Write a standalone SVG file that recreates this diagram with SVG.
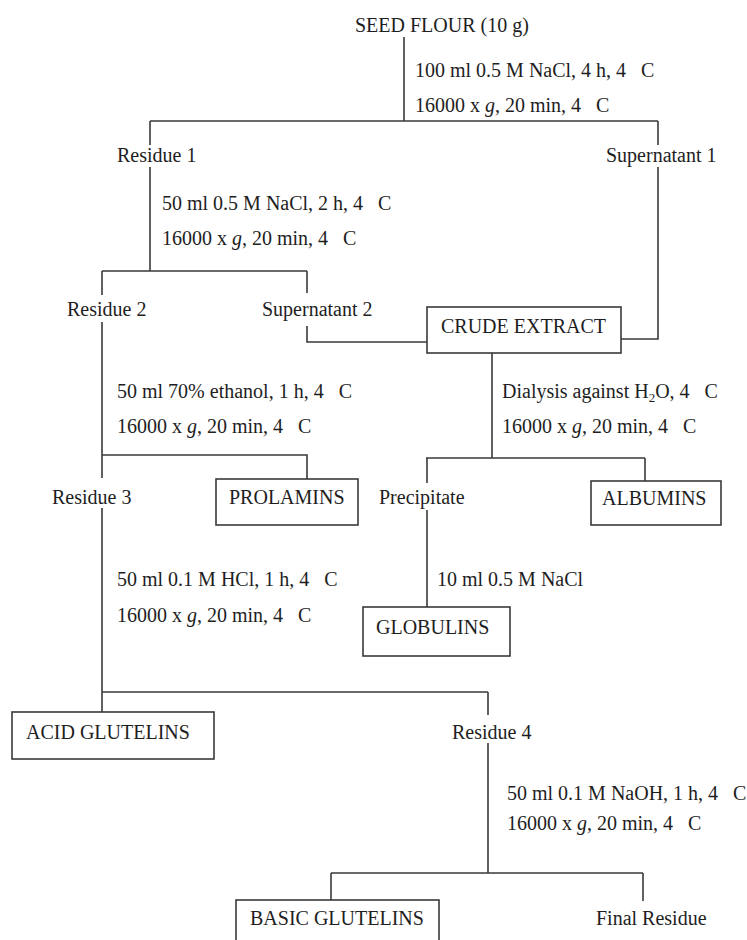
<svg xmlns="http://www.w3.org/2000/svg" width="747" height="940" viewBox="0 0 747 940">
<style>
text{font-family:"Liberation Serif","Times New Roman",serif;font-size:20px;fill:#1e1e1e;white-space:pre}
.l{fill:none;stroke:#3a3a3a;stroke-width:1.6}
.b{fill:#fff;stroke:#3a3a3a;stroke-width:1.6}
.i{font-style:italic}
</style>
<rect width="747" height="940" fill="#fff"/>
<g id="connectors">
<path class="l" d="M404,37V121M150,121H658M150,121V145M150,167V271M658,121V145M658,167V339H621"/>
<path class="l" d="M102,271H307M102,271V295M102,322V478M307,271V293M307,326V342H427"/>
<path class="l" d="M102,455H307V479"/>
<path class="l" d="M492,353V458M426,458H645M427,458V483M427,510V607M645,458V481"/>
<path class="l" d="M102,508V712M102,692H488M488,692V715M488,743V873M331,873H643M331,873V900M643,873V901"/>
</g>
<g id="seed-flour"><text x="355" y="32">SEED FLOUR (10 g)</text></g>
<g id="step1"><text x="415" y="77">100 ml 0.5 M NaCl, 4 h, 4   C</text><text x="415" y="112">16000 x <tspan class="i">g</tspan>, 20 min, 4   C</text></g>
<g id="residue1"><text x="117" y="162">Residue 1</text></g>
<g id="supernatant1"><text x="606" y="162">Supernatant 1</text></g>
<g id="step2"><text x="162" y="210">50 ml 0.5 M NaCl, 2 h, 4   C</text><text x="162" y="245">16000 x <tspan class="i">g</tspan>, 20 min, 4   C</text></g>
<g id="residue2"><text x="67" y="316">Residue 2</text></g>
<g id="supernatant2"><text x="262" y="316">Supernatant 2</text></g>
<g id="crude-extract"><rect class="b" x="427" y="307" width="194" height="46"/><text x="441" y="333">CRUDE EXTRACT</text></g>
<g id="step3"><text x="117" y="398">50 ml 70% ethanol, 1 h, 4   C</text><text x="117" y="433">16000 x <tspan class="i">g</tspan>, 20 min, 4   C</text></g>
<g id="dialysis"><text x="502" y="398">Dialysis against H<tspan font-size="13" dy="4">2</tspan><tspan dy="-4">O, 4   C</tspan></text><text x="502" y="433">16000 x <tspan class="i">g</tspan>, 20 min, 4   C</text></g>
<g id="residue3"><text x="52" y="504">Residue 3</text></g>
<g id="prolamins"><rect class="b" x="216" y="479" width="142" height="46"/><text x="229" y="504">PROLAMINS</text></g>
<g id="precipitate"><text x="379" y="504">Precipitate</text></g>
<g id="albumins"><rect class="b" x="591" y="481" width="130" height="44"/><text x="602" y="505">ALBUMINS</text></g>
<g id="step4"><text x="117" y="586">50 ml 0.1 M HCl, 1 h, 4   C</text><text x="117" y="622">16000 x <tspan class="i">g</tspan>, 20 min, 4   C</text></g>
<g id="nacl"><text x="437" y="586">10 ml 0.5 M NaCl</text></g>
<g id="globulins"><rect class="b" x="363" y="607" width="147" height="49"/><text x="376" y="634">GLOBULINS</text></g>
<g id="acid-glutelins"><rect class="b" x="12" y="712" width="202" height="47"/><text x="26" y="739">ACID GLUTELINS</text></g>
<g id="residue4"><text x="452" y="739">Residue 4</text></g>
<g id="step5"><text x="507" y="800">50 ml 0.1 M NaOH, 1 h, 4   C</text><text x="507" y="830">16000 x <tspan class="i">g</tspan>, 20 min, 4   C</text></g>
<g id="basic-glutelins"><rect class="b" x="236" y="900" width="203" height="60"/><text x="250" y="925">BASIC GLUTELINS</text></g>
<g id="final-residue"><text x="596" y="925">Final Residue</text></g>
</svg>
